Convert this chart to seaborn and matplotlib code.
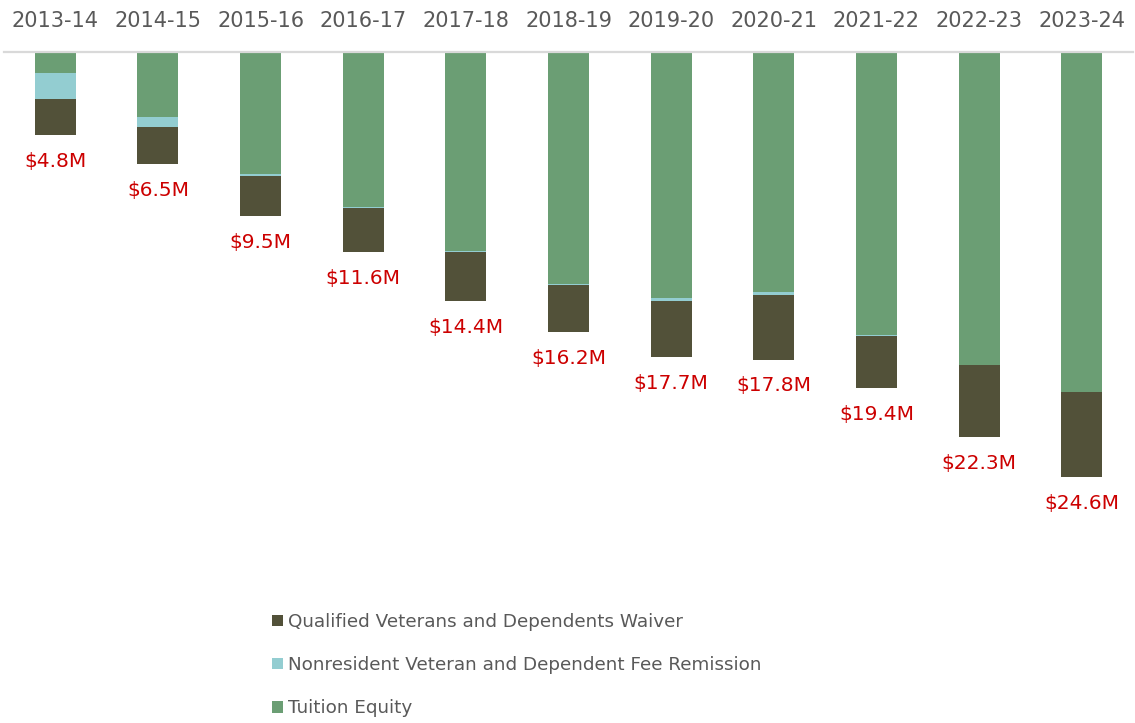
import pandas as pd
import numpy as np
import matplotlib.pyplot as plt
import seaborn as sns
from matplotlib.patches import Patch

# values in $ millions
years = ["2013-14", "2014-15", "2015-16", "2016-17", "2017-18", "2018-19",
         "2019-20", "2020-21", "2021-22", "2022-23", "2023-24"]
tuition_equity = [1.2, 3.75, 7.05, 8.95, 11.5, 13.4, 14.25, 13.9, 16.35, 18.1, 19.7]
nonresident = [1.5, 0.6, 0.15, 0.05, 0.1, 0.1, 0.15, 0.15, 0.08, 0.02, 0.0]
qualified = [2.1, 2.15, 2.3, 2.6, 2.8, 2.7, 3.25, 3.75, 3.0, 4.15, 4.9]
totals = [4.8, 6.5, 9.5, 11.6, 14.4, 16.2, 17.7, 17.8, 19.4, 22.3, 24.6]

series_names = ["Qualified Veterans and Dependents Waiver",
                "Nonresident Veteran and Dependent Fee Remission",
                "Tuition Equity"]
colors = {"Qualified Veterans and Dependents Waiver": "#525139",
          "Nonresident Veteran and Dependent Fee Remission": "#93CDD1",
          "Tuition Equity": "#6B9E74"}

df = pd.DataFrame({"year": years, "tuition": tuition_equity,
                   "nonres": nonresident, "qual": qualified})
df["cum_tuition"] = df["tuition"]
df["cum_nonres"] = df["cum_tuition"] + df["nonres"]
df["cum_qual"] = df["cum_nonres"] + df["qual"]

sns.set_style("white")
plt.rcParams['font.family'] = ['DejaVu Sans']

fig = plt.figure(figsize=(11.35, 7.23), dpi=100)
ax = fig.add_axes([4 / 1135, 1 - 560 / 723, 1129 / 1135, 508 / 723])

# stacked bars hanging from the top: draw cumulative totals, biggest first
for col, name in [("cum_qual", series_names[0]),
                  ("cum_nonres", series_names[1]),
                  ("cum_tuition", series_names[2])]:
    sns.barplot(data=df, x="year", y=col, color=colors[name], width=0.4,
                saturation=1, linewidth=0, ax=ax)

for i, t in enumerate(totals):
    ax.annotate(f"${t}M", xy=(i, df["cum_qual"][i]), xytext=(0, -19),
                textcoords="offset points", ha="center", va="center",
                fontsize=14.5, color="#CC0000")

ax.set_ylim(29.4, 0)
ax.set_xlim(-0.5, len(years) - 0.5)
ax.xaxis.tick_top()
ax.set_xlabel("")
ax.set_ylabel("")
ax.set_yticks([])
ax.tick_params(axis="x", length=0, pad=15, labelsize=15, labelcolor="#595959")

for side in ["left", "right", "bottom"]:
    ax.spines[side].set_visible(False)
ax.spines["top"].set_color("#D9D9D9")
ax.spines["top"].set_linewidth(1.6)

handles = [Patch(facecolor=colors[n], edgecolor="none") for n in series_names]
fig.legend(handles, series_names, loc="upper left",
           bbox_to_anchor=(272 / 1135, 1 - 613 / 723), frameon=False,
           fontsize=13.2, labelcolor="#595959", handlelength=0.6, handleheight=0.6,
           handletextpad=0.3, labelspacing=1.37, borderpad=0, borderaxespad=0)

fig.savefig("out.png", dpi=100)
